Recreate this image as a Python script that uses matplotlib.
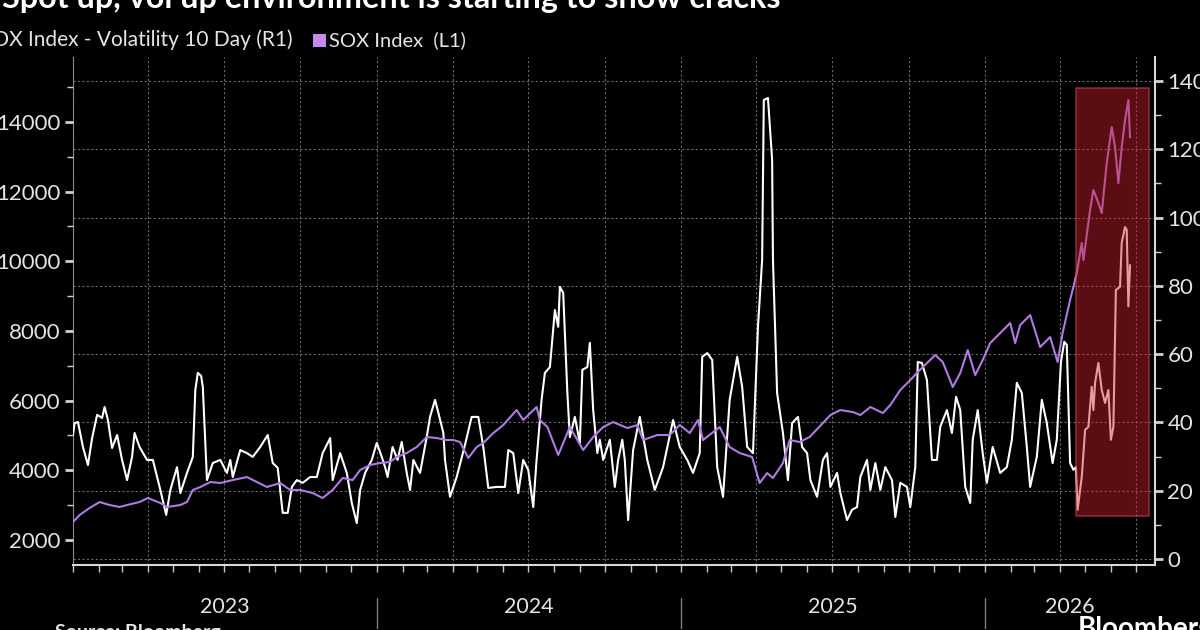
import matplotlib
matplotlib.use("Agg")
import matplotlib.pyplot as plt
import matplotlib.dates as mdates
from matplotlib.patches import Rectangle
from matplotlib.ticker import MultipleLocator
from matplotlib.transforms import blended_transform_factory
import pandas as pd

plt.rcParams['font.family'] = ['Lato', 'DejaVu Sans']

start = pd.Timestamp('2023-01-01')
x_end = pd.Timestamp('2026-07-24')

# SOX Index - Volatility 10 Day (right axis), days counted from 2023-01-01
vol_day = [0, 2, 6, 12, 18, 23, 29, 35, 38, 42,
           47, 53, 59, 65, 71, 74, 80, 89, 96, 105,
           112, 117, 125, 129, 137, 144, 147, 150, 154, 156,
           161, 168, 177, 185, 189, 192, 201, 209, 216, 225,
           234, 240, 246, 252, 258, 263, 269, 276, 285, 293,
           300, 309, 312, 321, 329, 335, 341, 345, 351, 359,
           365, 371, 375, 378, 384, 390, 395, 401, 405, 409,
           417, 425, 429, 435, 439, 445, 447, 453, 461, 471,
           479, 487, 493, 499, 509, 519, 523, 529, 535, 541,
           547, 553, 557, 563, 567, 573, 579, 583, 585, 589,
           594, 597, 603, 609, 612, 618, 621, 625, 630, 633,
           637, 645, 651, 655, 660, 663, 667, 673, 681, 690,
           699, 709, 721, 729, 738, 745, 753, 756, 762, 768,
           774, 781, 789, 798, 804, 810, 817, 823, 828, 830,
           835, 840, 841, 846, 853, 859, 864, 871, 876, 882,
           886, 894, 901, 906, 910, 918, 922, 930, 936, 942,
           946, 954, 958, 964, 970, 976, 984, 988, 994, 1002,
           1006, 1012, 1015, 1020, 1026, 1032, 1038, 1042, 1050, 1056,
           1061, 1066, 1072, 1078, 1081, 1087, 1093, 1098, 1105, 1114,
           1122, 1128, 1134, 1140, 1146, 1150, 1158, 1164, 1170, 1177,
           1182, 1187, 1191, 1194, 1198, 1202, 1205, 1207, 1212, 1216,
           1220, 1224, 1226, 1228, 1232, 1236, 1240, 1244, 1247, 1250,
           1253, 1258, 1260, 1264, 1266, 1268, 1270]
vol_val = [36.3, 39.8, 40.1, 32.8, 27.5, 35.4, 42.2, 41.3, 44.5, 40.7,
           32.5, 36.3, 29.0, 23.1, 29.9, 36.9, 32.8, 29.0, 29.0, 20.2,
           12.9, 20.2, 26.9, 19.3, 25.2, 29.9, 49.5, 54.5, 53.6, 50.4,
           23.1, 28.1, 29.0, 25.2, 29.0, 24.0, 31.9, 31.0, 29.9, 32.8,
           36.3, 28.1, 26.7, 13.5, 13.5, 21.1, 23.1, 22.3, 24.0, 24.0,
           31.0, 35.4, 23.1, 31.0, 25.2, 16.4, 10.5, 20.2, 25.2, 29.0,
           34.0, 29.9, 26.9, 24.0, 32.8, 29.0, 34.3, 25.2, 20.2, 29.0,
           25.2, 35.7, 41.6, 46.6, 42.8, 36.9, 29.0, 18.2, 24.0, 33.4,
           41.6, 41.6, 32.8, 20.8, 21.1, 21.1, 31.9, 31.0, 19.3, 29.0,
           26.1, 15.2, 29.0, 46.6, 54.5, 56.2, 72.9, 68.0, 79.7, 77.9,
           48.6, 35.7, 41.6, 34.0, 55.4, 56.2, 63.3, 43.6, 31.0, 34.9,
           29.0, 34.9, 21.1, 29.0, 34.9, 29.0, 11.4, 31.9, 41.6, 29.0,
           20.2, 26.9, 40.7, 32.8, 29.0, 25.2, 31.0, 59.2, 60.3, 58.3,
           26.9, 18.2, 46.6, 59.2, 50.4, 32.8, 31.0, 68.0, 87.6, 134.4,
           135.0, 116.9, 87.6, 48.6, 36.9, 23.1, 39.8, 41.6, 32.8, 31.0,
           23.1, 18.2, 29.0, 31.0, 21.1, 25.2, 19.3, 11.4, 14.4, 15.2,
           24.0, 29.0, 20.2, 28.1, 20.2, 26.9, 23.1, 12.3, 22.3, 21.1,
           15.2, 26.9, 57.7, 57.4, 52.4, 29.0, 29.0, 38.7, 43.6, 36.9,
           47.5, 43.6, 21.1, 16.4, 34.9, 43.6, 31.0, 22.3, 32.8, 25.2,
           26.9, 34.9, 51.6, 48.6, 32.8, 21.1, 29.9, 46.6, 39.8, 28.1,
           34.9, 57.7, 63.6, 62.7, 28.1, 26.1, 26.9, 14.4, 24.0, 37.8,
           38.7, 50.4, 43.6, 51.6, 57.4, 49.5, 45.7, 49.5, 34.9, 38.7,
           78.8, 79.7, 92.6, 97.2, 96.4, 74.0, 86.0]

# SOX Index level (left axis)
sox_day = [0, 8, 20, 32, 44, 56, 65, 80, 90, 105,
           113, 129, 137, 144, 153, 165, 177, 192, 209, 221,
           233, 249, 261, 273, 288, 300, 312, 324, 336, 345,
           357, 369, 381, 389, 401, 413, 425, 437, 449, 457,
           465, 475, 485, 493, 505, 517, 533, 541, 557, 561,
           570, 583, 597, 613, 625, 637, 649, 666, 678, 685,
           702, 717, 729, 741, 751, 757, 777, 789, 801, 816,
           825, 834, 841, 853, 861, 873, 885, 901, 910, 922,
           937, 946, 958, 973, 982, 994, 1006, 1015, 1026, 1036,
           1045, 1057, 1066, 1075, 1084, 1093, 1102, 1114, 1126, 1132,
           1138, 1150, 1162, 1174, 1183, 1189, 1198, 1206, 1212, 1214,
           1222, 1226, 1232, 1236, 1242, 1248, 1252, 1256, 1260, 1264,
           1268, 1270]
sox_val = [2516, 2717, 2918, 3090, 3004, 2947, 3004, 3090, 3205, 3062,
           2947, 3004, 3090, 3435, 3521, 3664, 3635, 3721, 3807, 3664,
           3521, 3635, 3435, 3435, 3348, 3205, 3435, 3779, 3721, 4008,
           4152, 4209, 4238, 4381, 4496, 4668, 4955, 4926, 4869, 4869,
           4812, 4353, 4668, 4783, 5070, 5299, 5730, 5443, 5816, 5443,
           5242, 4439, 5242, 4582, 4955, 5242, 5385, 5213, 5299, 4869,
           5012, 5012, 5299, 5070, 5443, 4869, 5242, 4668, 4496, 4381,
           3635, 3922, 3779, 4209, 4869, 4812, 4955, 5357, 5586, 5730,
           5672, 5586, 5816, 5644, 5873, 6304, 6590, 6820, 7078, 7308,
           7107, 6390, 6791, 7451, 6734, 7164, 7652, 7939, 8226, 7652,
           8168, 8455, 7537, 7824, 7107, 7939, 8886, 9660, 10521, 10033,
           11468, 12042, 11669, 11382, 12816, 13849, 13275, 12242, 13275, 14050,
           14624, 13562]

# highlighted window (dates and right-axis range)
box_start, box_end = pd.Timestamp('2026-04-20'), pd.Timestamp('2026-07-17')
box_low, box_high = 12.6, 138

years = ['2023', '2024', '2025', '2026']

vol_dates = start + pd.to_timedelta(vol_day, unit='D')
sox_dates = start + pd.to_timedelta(sox_day, unit='D')

txt = '#e4e4e4'
purple = '#b07ae4'

fig = plt.figure(figsize=(12, 6.3), dpi=100, facecolor='black')
ax = fig.add_axes([0.0608, 0.1032, 0.9017, 0.8063])
ax.set_facecolor('black')
ax2 = ax.twinx()

# volatility on host axis, ticks on the right
ax.plot(vol_dates, vol_val, color='white', lw=1.5, zorder=3)
ax.set_ylim(-1.76, 147)
ax.set_yticks(range(0, 141, 20))
ax.yaxis.set_minor_locator(MultipleLocator(10))
ax.yaxis.tick_right()
ax.tick_params(axis='y', which='major', colors='#d0d0d0', labelcolor=txt,
               labelsize=16, length=6, width=2, pad=3)
ax.tick_params(axis='y', which='minor', colors='#d0d0d0', length=4, width=1)

# SOX level on twin axis, ticks on the left
ax2.plot(sox_dates, sox_val, color=purple, lw=1.5, zorder=3)
ax2.set_ylim(1283, 15860)
ax2.set_yticks(range(2000, 14001, 2000))
ax2.yaxis.set_minor_locator(MultipleLocator(1000))
ax2.yaxis.tick_left()
ax2.tick_params(axis='y', which='major', colors='#d0d0d0', labelcolor=txt,
                labelsize=16, length=6, width=2, pad=3)
ax2.tick_params(axis='y', which='minor', colors='#d0d0d0', length=4, width=1)
for s in ax2.spines.values():
    s.set_visible(False)

ax.set_xlim(start, x_end)
ax.xaxis.set_major_locator(mdates.MonthLocator(bymonth=[1, 4, 7, 10]))
ax.xaxis.set_minor_locator(mdates.MonthLocator())
ax.xaxis.set_major_formatter(plt.NullFormatter())
ax.tick_params(axis='x', which='both', colors='#c8c8c8', length=5, width=1)

ax.grid(True, which='major', color='#6a6a6a', linestyle=(0, (2, 2)), lw=0.8)
ax.set_axisbelow(True)

ax.spines['top'].set_visible(False)
ax.spines['left'].set_color('#8a8a8a')
ax.spines['right'].set_color('#d8d8d8')
ax.spines['bottom'].set_color('#d8d8d8')
ax.spines['right'].set_linewidth(1.5)
ax.spines['bottom'].set_linewidth(1.5)

# red highlight box
d0, d1 = mdates.date2num(box_start), mdates.date2num(box_end)
ax2.add_patch(Rectangle((d0, box_low), d1 - d0, box_high - box_low,
                        transform=ax.transData, facecolor=(0.80, 0.12, 0.18),
                        alpha=0.45, edgecolor='#e0505a', lw=1.3, zorder=6))

# year labels and separators under the axis
tr = blended_transform_factory(ax.transData, ax.transAxes)
for i, y in enumerate(years):
    y0 = pd.Timestamp(y + '-01-01')
    y1 = min(pd.Timestamp(str(int(y) + 1) + '-01-01'), x_end)
    mid = y0 + (y1 - y0) / 2
    ax.text(mid, -0.083, y, transform=tr, ha='center', va='center',
            fontsize=15.5, color=txt)
    if i > 0:
        ax.plot([y0, y0], [-0.065, -0.124], transform=tr, clip_on=False,
                color='#7a7a7a', lw=1)

# title and legend (cropped at the edge like the reference)
fig.text(780 / 1200, 1 - 8 / 630,
         'Spot up, vol up environment is starting to show cracks',
         ha='right', va='baseline', fontsize=23.3, fontweight='bold', color='white')
fig.text(293 / 1200, 1 - 40 / 630, 'SOX Index - Volatility 10 Day (R1)',
         ha='right', va='center', fontsize=15, color=txt)
fig.patches.append(Rectangle((313 / 1200, 1 - 47 / 630), 13 / 1200, 13 / 630,
                             transform=fig.transFigure, facecolor='#c58af0',
                             edgecolor='none'))
fig.text(329 / 1200, 1 - 40 / 630, 'SOX Index  (L1)',
         ha='left', va='center', fontsize=14.5, color=txt)

fig.text(55 / 1200, 1 - 624 / 630, 'Source: Bloomberg', ha='left', va='top',
         fontsize=14, fontweight='bold', color=txt)
fig.text(1078 / 1200, 1 - 616 / 630, 'Bloomberg', ha='left', va='top',
         fontsize=20, fontweight='bold', color='white')

fig.savefig('out.png', dpi=100, facecolor='black')
